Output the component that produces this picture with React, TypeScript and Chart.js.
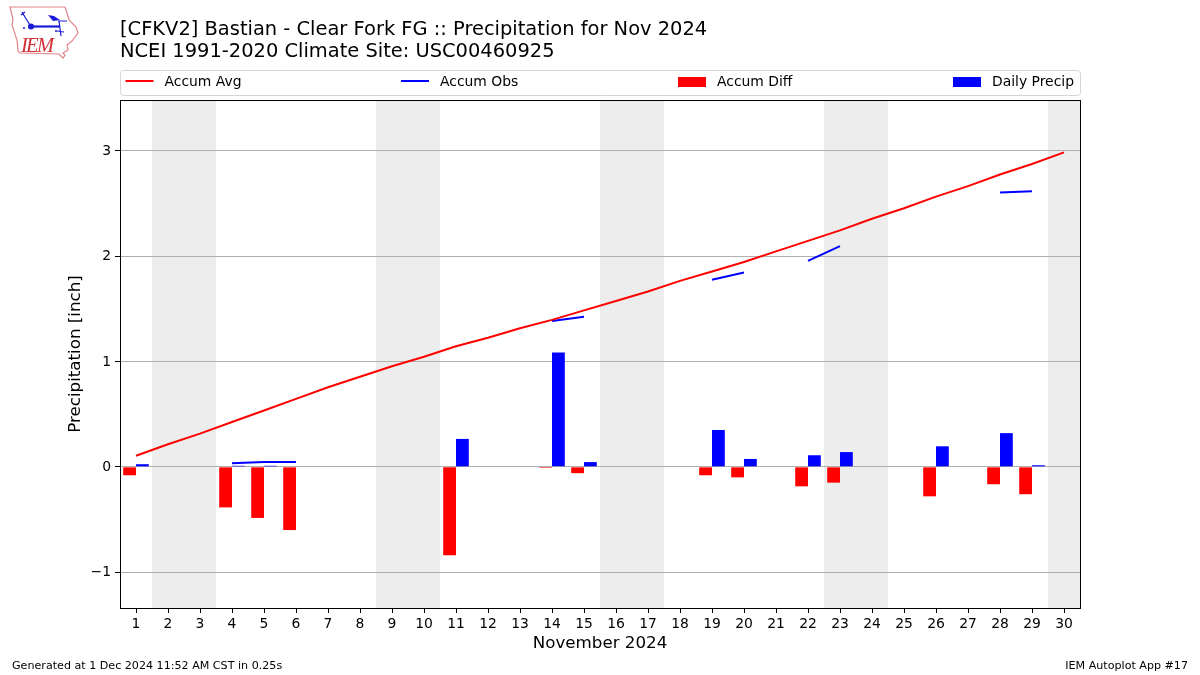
import React, { useEffect, useRef } from "react";
import { Chart, registerables } from "chart.js";

Chart.register(...registerables);

const days = ["1","2","3","4","5","6","7","8","9","10","11","12","13","14","15","16","17","18","19","20","21","22","23","24","25","26","27","28","29","30"];
const accumAvg = [0.105,0.215,0.315,0.425,0.535,0.645,0.755,0.855,0.955,1.045,1.145,1.225,1.315,1.395,1.485,1.575,1.665,1.765,1.855,1.945,2.045,2.145,2.245,2.355,2.455,2.565,2.665,2.775,2.875,2.985];
const accumObs = [null,null,null,0.035,0.045,0.045,null,null,null,null,null,null,null,1.385,1.425,null,null,null,1.775,1.845,null,1.955,2.095,null,null,null,null,2.605,2.615,null];
const accumDiff = [-0.08,null,null,-0.385,-0.485,-0.6,null,null,null,null,-0.84,null,null,-0.01,-0.06,null,null,null,-0.08,-0.10,null,-0.185,-0.15,null,null,-0.28,null,-0.165,-0.26,null];
const dailyPrecip = [0.025,null,null,0.01,0.01,null,null,null,null,null,0.265,null,null,1.085,0.045,null,null,null,0.35,0.075,null,0.11,0.14,null,null,0.195,null,0.32,0.015,null];
const weekendSpans = [[1.5,3.5],[8.5,10.5],[15.5,17.5],[22.5,24.5],[29.5,30.5]];
const yTicks = [-1,0,1,2,3];
const titleLines = ["[CFKV2] Bastian - Clear Fork FG :: Precipitation for Nov 2024","NCEI 1991-2020 Climate Site: USC00460925"];
const footerLeft = "Generated at 1 Dec 2024 11:52 AM CST in 0.25s";
const footerRight = "IEM Autoplot App #17";
const legendOrder = ["Accum Avg", "Accum Obs", "Accum Diff", "Daily Precip"];

const FONT = '"DejaVu Sans"';
const LEGEND_SLOTS = [125.5, 401, 678, 953];

const decorPlugin = {
  id: "decor",
  beforeDraw(chart: any) {
    const { ctx, chartArea: a, scales } = chart;
    ctx.save();
    ctx.fillStyle = "#ededed";
    for (const [s, e] of weekendSpans) {
      const x0 = scales.x.getPixelForValue(s - 1);
      const x1 = scales.x.getPixelForValue(e - 1);
      ctx.fillRect(x0, a.top, x1 - x0, a.bottom - a.top);
    }
    ctx.restore();
  },
  afterDraw(chart: any) {
    const { ctx, chartArea: a } = chart;
    ctx.save();
    // frame
    ctx.strokeStyle = "#000";
    ctx.lineWidth = 1;
    ctx.strokeRect(a.left + 0.5, a.top + 0.5, a.right - a.left, a.bottom - a.top);

    // legend
    const lx = a.left + 0.5, ly = 70.5, lw = a.right - a.left, lh = 25;
    ctx.strokeStyle = "#d5d5d5";
    ctx.beginPath();
    ctx.roundRect(lx, ly, lw, lh, 3);
    ctx.stroke();
    ctx.font = `13.9px ${FONT}`;
    ctx.textBaseline = "middle";
    ctx.textAlign = "left";
    const my = 81;
    legendOrder.forEach((name, i) => {
      const d = chart.data.datasets.find((ds: any) => ds.label === name);
      const x = LEGEND_SLOTS[i];
      if (d.type === "line") {
        ctx.strokeStyle = d.borderColor;
        ctx.lineWidth = 2;
        ctx.beginPath();
        ctx.moveTo(x, my);
        ctx.lineTo(x + 28, my);
        ctx.stroke();
      } else {
        ctx.fillStyle = d.backgroundColor;
        ctx.fillRect(x, my - 4, 28, 10);
      }
      ctx.fillStyle = "#000";
      ctx.fillText(name, x + 39, my + 1.5);
    });

    // footer
    ctx.fillStyle = "#000";
    ctx.font = `11.12px ${FONT}`;
    ctx.textAlign = "left";
    ctx.fillText(footerLeft, 12, 666);
    ctx.textAlign = "right";
    ctx.fillText(footerRight, 1188, 666);
    ctx.restore();
  },
};

function Logo() {
  return (
    <svg width={80} height={60} style={{ position: "absolute", left: 0, top: 0 }}>
      <path
        d="M10 7 L65 7 L67 13 L69 20 L76 27 L78 33 L72 41 L67 45 L68 50 L63 53 L65 55 L63 58 L59 54 L20 53 L18 51 L17 40 L12 25 L13 19 Z"
        fill="none" stroke="#e08488" strokeWidth={1.2}
      />
      <g stroke="#1a1ad8" fill="#1a1ad8">
        <path d="M31 26.5 L60 26.5" strokeWidth={2.2} />
        <circle cx={31} cy={26.5} r={3} stroke="none" />
        <path d="M23 14 L30 25 M22 12 L25 17 M21 15 L25 12" strokeWidth={1.2} fill="none" />
        <path d="M48 15 L54 16 L60 20 L53 21 Z" stroke="none" />
        <path d="M58 21 L67 21 M59 21 L61 36 M57 31 L64 32" strokeWidth={1.2} fill="none" />
        <circle cx={24} cy={28} r={1} stroke="none" />
        <circle cx={56} cy={31} r={1} stroke="none" />
      </g>
      <text x={21} y={52} fontFamily="Liberation Serif" fontStyle="italic" fontSize={20.5} textLength={33} fill="#d22f35">IEM</text>
    </svg>
  );
}

export default function App() {
  const ref = useRef<HTMLCanvasElement>(null);
  useEffect(() => {
    const chart = new Chart(ref.current as HTMLCanvasElement, {
      type: "bar",
      plugins: [decorPlugin],
      data: {
        labels: days,
        datasets: [
          { type: "line", label: "Accum Avg", data: accumAvg, borderColor: "#ff0000", backgroundColor: "#ff0000", borderWidth: 2, pointRadius: 0, order: 1 },
          { type: "line", label: "Accum Obs", data: accumObs, borderColor: "#0000ff", backgroundColor: "#0000ff", borderWidth: 2, pointRadius: 0, spanGaps: false, order: 1 },
          { type: "bar", label: "Accum Diff", data: accumDiff, backgroundColor: "#ff0000", categoryPercentage: 0.8, barPercentage: 1, order: 2 },
          { type: "bar", label: "Daily Precip", data: dailyPrecip, backgroundColor: "#0000ff", categoryPercentage: 0.8, barPercentage: 1, order: 2 },
        ] as any,
      },
      options: {
        responsive: false,
        animation: false,
        layout: { padding: { left: 0, right: 120, top: 0, bottom: 0 } },
        plugins: {
          legend: { display: false },
          tooltip: { enabled: false },
          title: {
            display: true,
            text: titleLines,
            align: "start",
            fullSize: false,
            color: "#000",
            font: { family: FONT, size: 19.45, weight: "normal", lineHeight: 1.16 },
            padding: { top: 18.5, bottom: 36.4 },
          } as any,
        },
        scales: {
          x: {
            type: "category",
            offset: true,
            afterFit: (s: any) => { s.height = 67; },
            grid: { offset: false, drawOnChartArea: false, drawTicks: true, tickLength: 5, tickColor: "#000", tickWidth: 1 },
            border: { display: false },
            ticks: { color: "#000", font: { family: FONT, size: 13.9 }, padding: 3.5, autoSkip: false, maxRotation: 0 },
            title: { display: true, text: "November 2024", color: "#000", font: { family: FONT, size: 16.7 }, padding: { top: 3, bottom: 21 } },
          },
          y: {
            type: "linear",
            min: -1.34,
            max: 3.482,
            afterFit: (s: any) => { s.width = 120; },
            afterBuildTicks: (s: any) => { s.ticks = yTicks.map((value) => ({ value })); },
            grid: { color: "#b0b0b0", lineWidth: 1, tickColor: "#000", tickLength: 5 },
            border: { display: false },
            ticks: {
              color: "#000",
              font: { family: FONT, size: 13.9 },
              padding: 4,
              labelOffset: 0.5,
              callback: (v: any) => (v < 0 ? "\u2212" + Math.abs(v) : String(v)),
            },
            title: { display: true, text: "Precipitation [inch]", color: "#000", font: { family: FONT, size: 16.7 }, padding: { top: 66, bottom: 0 } },
          },
        },
      } as any,
    });
    return () => chart.destroy();
  }, []);
  return (
    <div style={{ position: "absolute", left: 0, top: 0, width: 1200, height: 675, background: "#fff" }}>
      <canvas ref={ref} width={1200} height={675} style={{ display: "block" }} />
      <Logo />
    </div>
  );
}
